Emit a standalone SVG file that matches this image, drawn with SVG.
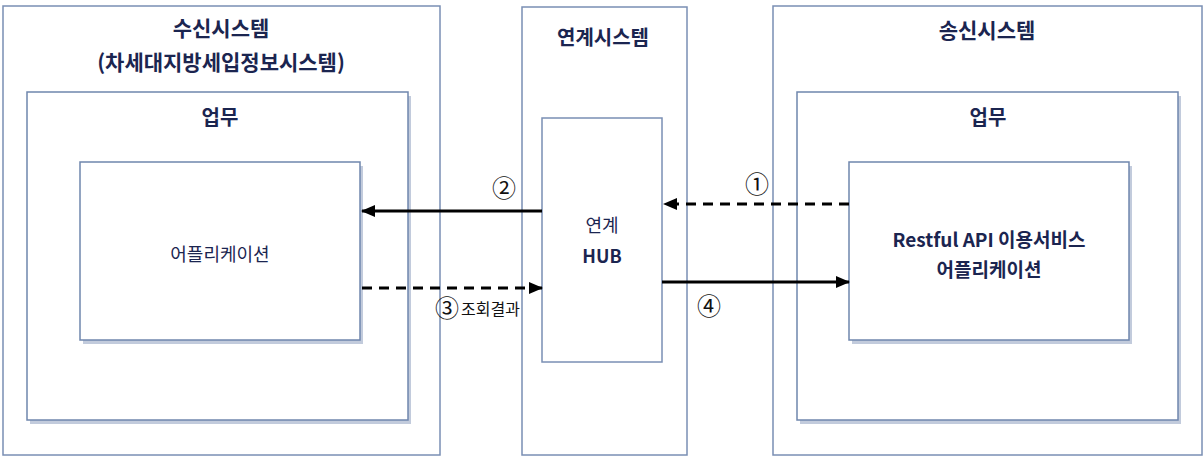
<svg xmlns="http://www.w3.org/2000/svg" width="1204" height="457" viewBox="0 0 1204 457">
<style>
.box{fill:#fff;stroke:#7a8fb4;stroke-width:1.5}
.ibox{fill:#fff;stroke:#6f86ad;stroke-width:1.5}
.shd{fill:#8fa0c0;opacity:0.55}
.t{font-family:"Noto Sans CJK KR","Liberation Sans",sans-serif;fill:#1b2550;text-anchor:middle}
.b{font-weight:bold}
.c{font-family:"Noto Sans CJK KR","DejaVu Sans",sans-serif;fill:#111;font-size:24px;text-anchor:middle}
.solid{stroke:#000;stroke-width:3;fill:none}
.dash{stroke:#000;stroke-width:3;fill:none;stroke-dasharray:10,7}
</style>
<defs>
<marker id="ah2" markerWidth="14" markerHeight="12" refX="13" refY="6" orient="auto" markerUnits="userSpaceOnUse" viewBox="0 0 14 12">
<path d="M0,0 L14,6 L0,12 Z" fill="#000"/>
</marker>
</defs>
<g id="recv-system">
<rect class="box" x="3" y="6" width="437" height="449"/>
<text class="t b" x="221" y="36" font-size="21">수신시스템</text>
<text class="t b" x="221" y="70" font-size="21">(차세대지방세입정보시스템)</text>
</g>
<g id="recv-work">
<rect class="shd" x="30" y="96" width="381" height="328"/>
<rect class="ibox" x="27" y="92" width="381" height="328"/>
<text class="t b" x="220" y="125" font-size="20">업무</text>
</g>
<g id="recv-app">
<rect class="shd" x="83" y="166" width="280" height="178"/>
<rect class="ibox" x="80" y="162" width="280" height="178"/>
<text class="t" x="220" y="261" font-size="18">어플리케이션</text>
</g>
<g id="link-system">
<rect class="box" x="522" y="7" width="165" height="448"/>
<text class="t b" x="603" y="45" font-size="20">연계시스템</text>
</g>
<g id="hub">
<rect class="box" x="542" y="118" width="120" height="244"/>
<text class="t" x="602" y="232" font-size="18">연계</text>
<text class="t b" x="602" y="263" font-size="18">HUB</text>
</g>
<g id="send-system">
<rect class="box" x="773" y="6" width="429" height="449"/>
<text class="t b" x="987" y="38" font-size="21">송신시스템</text>
</g>
<g id="send-work">
<rect class="shd" x="800" y="96" width="381" height="328"/>
<rect class="ibox" x="797" y="92" width="381" height="328"/>
<text class="t b" x="988" y="125" font-size="20">업무</text>
</g>
<g id="send-app">
<rect class="shd" x="852" y="166" width="280" height="178"/>
<rect class="ibox" x="849" y="162" width="280" height="178"/>
<text class="t b" x="989" y="247" font-size="19">Restful API 이용서비스</text>
<text class="t b" x="989" y="277" font-size="19">어플리케이션</text>
</g>
<g id="connectors">
<line class="dash" x1="849" y1="204" x2="664" y2="204" marker-end="url(#ah2)"/>
<text class="c" x="757" y="193">①</text>
<line class="solid" x1="542" y1="211" x2="362" y2="211" marker-end="url(#ah2)"/>
<text class="c" x="504" y="197">②</text>
<line class="dash" x1="362" y1="288" x2="542" y2="288" marker-end="url(#ah2)"/>
<text class="c" x="447" y="317">③</text>
<text font-family="&quot;Noto Sans CJK KR&quot;,sans-serif" font-size="16" fill="#111" x="461" y="315">조회결과</text>
<line class="solid" x1="662" y1="282" x2="849" y2="282" marker-end="url(#ah2)"/>
<text class="c" x="709" y="315">④</text>
</g>
</svg>
